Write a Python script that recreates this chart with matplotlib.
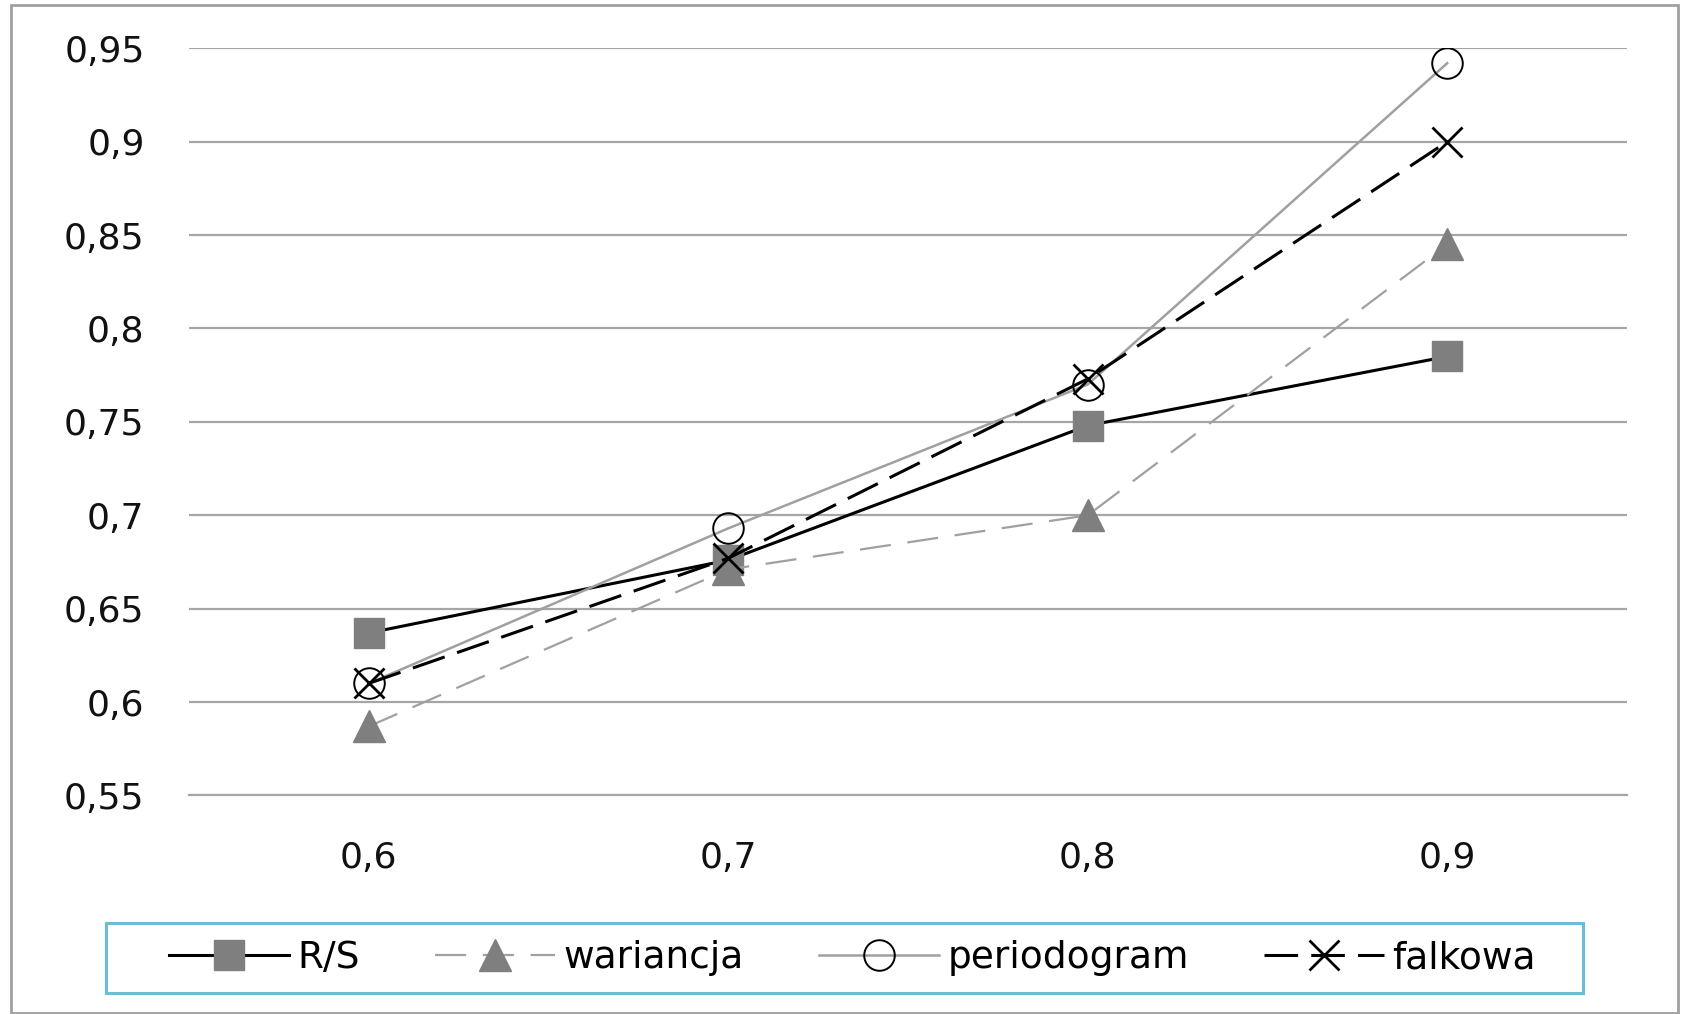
import matplotlib
matplotlib.use("Agg")
import matplotlib.pyplot as plt
from matplotlib.patches import Rectangle

# dane
kategorie = ["0,6", "0,7", "0,8", "0,9"]
rs = [0.637, 0.676, 0.748, 0.785]
wariancja = [0.587, 0.671, 0.700, 0.845]
periodogram = [0.610, 0.693, 0.770, 0.942]
falkowa = [0.610, 0.677, 0.773, 0.900]
y_ticks = [0.55, 0.6, 0.65, 0.7, 0.75, 0.8, 0.85, 0.9, 0.95]

plt.rcParams['font.family'] = ['DejaVu Sans']

fig = plt.figure(figsize=(16.83, 10.14), dpi=100)
ax = fig.add_axes([0.1123, 0.2155, 0.8544, 0.7369])

x = list(range(len(kategorie)))

# R/S
ax.plot(x, rs, color="black", lw=2.2, marker="s", ms=22,
        mfc="#7f7f7f", mec="#7f7f7f", label="R/S", zorder=3)
# wariancja
ax.plot(x, wariancja, color="#a0a0a0", lw=1.6, ls=(0, (14, 7.5)),
        marker="^", ms=23, mfc="#7f7f7f", mec="#7f7f7f",
        label="wariancja", zorder=3)
# periodogram
ax.plot(x, periodogram, color="#a0a0a0", lw=1.8, marker="o", ms=22,
        mfc="none", mec="black", mew=1.4, label="periodogram", zorder=3)
# falkowa
ax.plot(x, falkowa, color="black", lw=2.2, ls=(0, (11, 4.3)),
        marker="x", ms=21, mec="black", mew=2.0, label="falkowa", zorder=4)

ax.set_xlim(-0.5, 3.5)
ax.set_ylim(0.55, 0.95)
ax.set_xticks(x)
ax.set_xticklabels(kategorie)
ax.set_yticks(y_ticks)
ax.set_yticklabels([f"{v:g}".replace(".", ",") for v in y_ticks])

ax.grid(axis="y", color="#a6a6a6", lw=1.6)
ax.set_axisbelow(True)
for s in ["top", "right", "left"]:
    ax.spines[s].set_visible(False)
ax.spines["bottom"].set_color("#a6a6a6")
ax.spines["bottom"].set_linewidth(1.6)
ax.tick_params(length=0, labelsize=26, colors="#111111")
ax.tick_params(axis="y", pad=32)
ax.tick_params(axis="x", pad=33)

# legenda bez ramki + osobna ramka (asymetryczny margines jak w oryginale)
leg = fig.legend(loc="center", bbox_to_anchor=(0.5065, 0.0552), ncol=4,
                 fontsize=27, frameon=False,
                 handlelength=3.2, handletextpad=0.23, columnspacing=2.0,
                 borderpad=0, borderaxespad=0)
fig.patches.append(Rectangle((0.063, 0.0207), 0.8776, 0.069,
                             transform=fig.transFigure, fill=False,
                             edgecolor="#6cbcd6", lw=2.2))

# ramka wokół całego wykresu
fig.patches.append(Rectangle((0.0065, 0.001), 0.9905, 0.994,
                             transform=fig.transFigure, fill=False,
                             edgecolor="#a0a0a0", lw=2))

fig.savefig("out.png", dpi=100)
